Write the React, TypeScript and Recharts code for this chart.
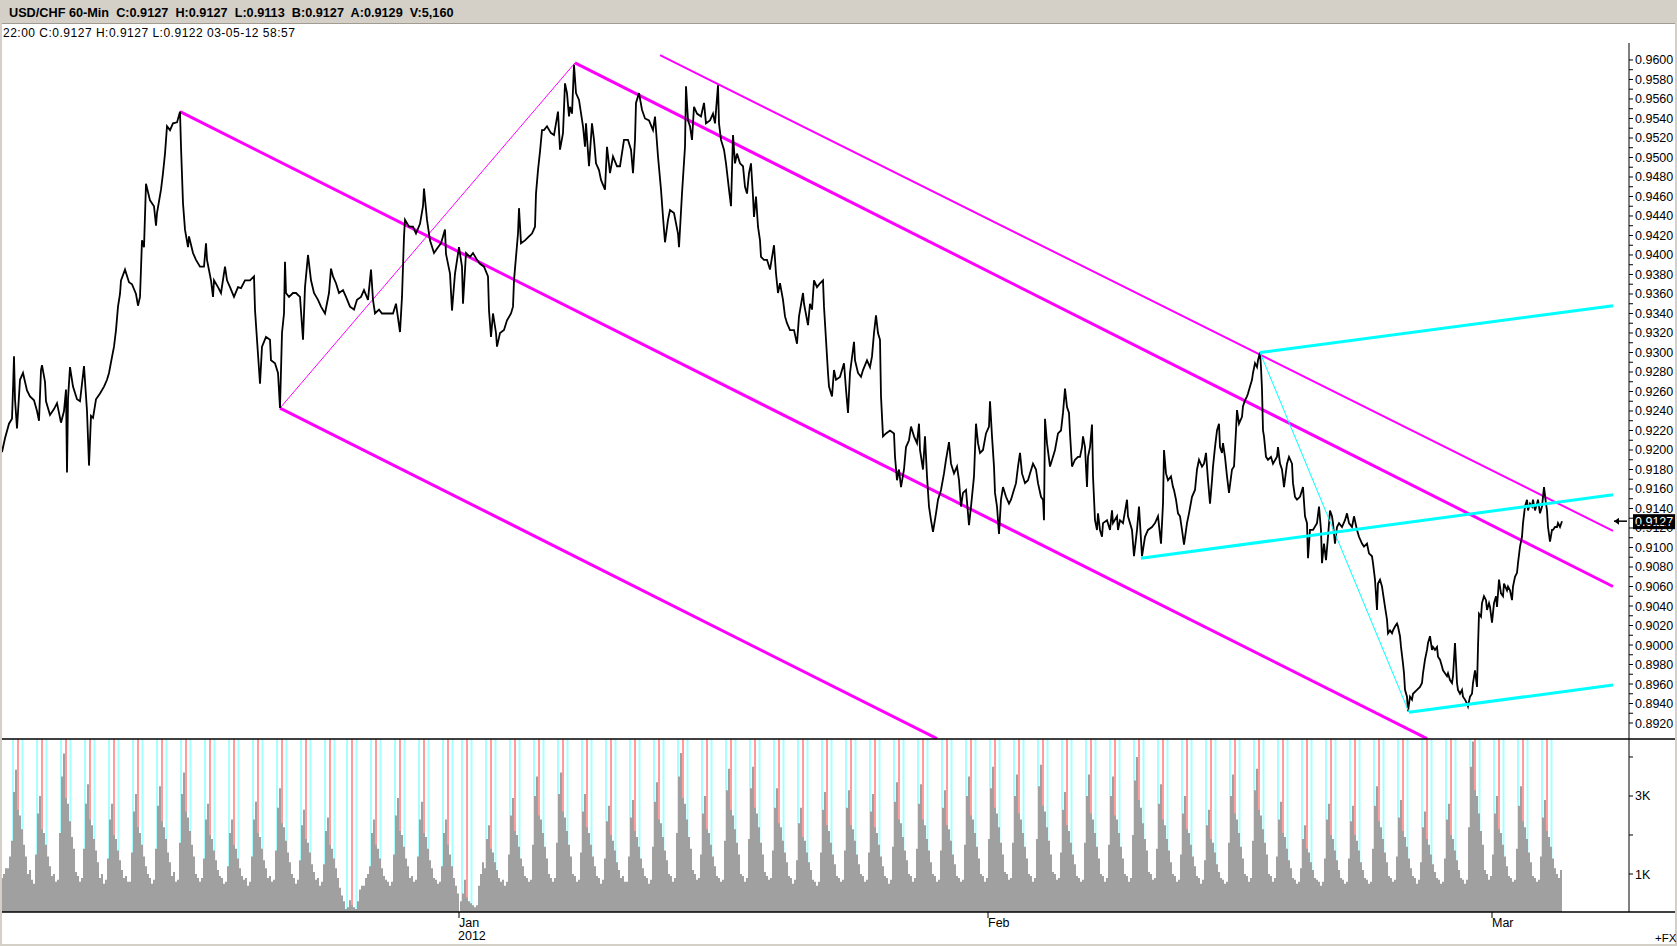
import React from 'react';
import { ComposedChart, Line, Bar, XAxis, YAxis, ReferenceLine } from 'recharts';

// x = bar number on the 60-min chart (weekends dropped, one bar per hour)
const pricesDec: [number, number][] = [
  [0, 0.9205], [2, 0.9198], [5, 0.9212], [9, 0.9227], [12, 0.9232], [13, 0.9262], [14, 0.9296], [15, 0.9252], [17, 0.9222],
  [20, 0.9272], [23, 0.9279], [27, 0.9261], [30, 0.9255], [34, 0.9251], [37, 0.924], [39, 0.923], [41, 0.9282], [42, 0.9287],
  [45, 0.927], [46, 0.925], [50, 0.9236], [54, 0.9242], [57, 0.9248], [61, 0.9228], [64, 0.924], [66, 0.9262], [67, 0.9177],
  [68, 0.9252], [70, 0.9285], [73, 0.9265], [77, 0.9252], [80, 0.925], [84, 0.9286], [87, 0.924], [89, 0.9184], [91, 0.9235],
  [93, 0.9233], [96, 0.9252], [100, 0.9258], [104, 0.9265], [107, 0.9272], [109, 0.9279], [111, 0.929], [114, 0.9306],
  [116, 0.9323], [118, 0.9347], [120, 0.936], [121, 0.9374], [125, 0.9385], [129, 0.9372], [132, 0.937], [136, 0.936],
  [138, 0.9348], [140, 0.9357], [142, 0.9415], [144, 0.9408], [146, 0.9473], [150, 0.9456], [154, 0.945], [156, 0.943],
  [157, 0.9443], [161, 0.9467], [163, 0.9484], [165, 0.9504], [167, 0.9532], [170, 0.9528], [173, 0.9535], [177, 0.9536],
  [180, 0.9547], [181, 0.9511], [183, 0.9453], [185, 0.9426], [188, 0.9408], [189, 0.9419], [193, 0.9402], [196, 0.9395],
  [200, 0.9388], [204, 0.9388], [206, 0.9412], [207, 0.9395], [211, 0.9374], [213, 0.9357], [214, 0.9374], [218, 0.9367],
  [221, 0.9361], [225, 0.9388], [227, 0.9374], [230, 0.9367], [234, 0.9357], [238, 0.9367], [241, 0.9366], [245, 0.9374],
  [250, 0.9374], [254, 0.9378], [255, 0.9344], [257, 0.9313], [260, 0.9268], [262, 0.9306], [266, 0.9316], [270, 0.9313],
  [271, 0.9292], [275, 0.9289], [278, 0.9279], [280, 0.9243], [282, 0.932], [284, 0.934], [285, 0.9393], [286, 0.9361],
  [289, 0.9357], [293, 0.9361], [296, 0.9361], [300, 0.9357], [303, 0.9313], [305, 0.9367], [308, 0.94], [311, 0.9374],
  [314, 0.9361], [318, 0.9354], [321, 0.9347], [325, 0.934], [329, 0.9361], [331, 0.9386], [333, 0.9378], [336, 0.9371],
  [339, 0.9361], [343, 0.9364], [346, 0.9357], [350, 0.9347], [354, 0.9344], [357, 0.9354], [361, 0.9357], [364, 0.9364],
  [368, 0.9354], [371, 0.9385], [373, 0.9354], [375, 0.934], [379, 0.9344], [382, 0.934], [386, 0.934], [389, 0.934],
  [393, 0.934], [396, 0.935], [400, 0.9321], [402, 0.9357], [404, 0.9419], [405, 0.9436], [409, 0.9429], [413, 0.9429],
  [416, 0.9422], [420, 0.9432], [423, 0.945], [424, 0.9468], [427, 0.9436], [429, 0.9422], [430, 0.9415], [434, 0.9402],
  [438, 0.9408], [441, 0.9412], [445, 0.9426], [446, 0.9401], [450, 0.9381], [452, 0.9343], [455, 0.9381],
];

const pricesJan: [number, number][] = [
  [459, 0.9408], [462, 0.9388], [463, 0.935], [466, 0.9402], [470, 0.9398], [473, 0.9402], [477, 0.9395], [480, 0.9391],
  [484, 0.9388], [488, 0.9378], [489, 0.9343], [491, 0.9316], [493, 0.934], [496, 0.932], [497, 0.9306], [500, 0.932],
  [504, 0.9323], [507, 0.9333], [511, 0.934], [513, 0.9347], [514, 0.9374], [516, 0.9398], [518, 0.9422], [519, 0.9448],
  [521, 0.9412], [525, 0.9415], [529, 0.9419], [532, 0.9422], [535, 0.9429], [536, 0.9463], [538, 0.9487], [540, 0.9506],
  [542, 0.9528], [544, 0.9528], [547, 0.9532], [551, 0.9525], [554, 0.9523], [558, 0.9547], [560, 0.9508], [563, 0.9525],
  [565, 0.9576], [567, 0.9566], [569, 0.9542], [570, 0.9552], [572, 0.9545], [574, 0.9595], [576, 0.9566], [579, 0.9559],
  [583, 0.9532], [585, 0.9511], [586, 0.9535], [589, 0.9491], [592, 0.9535], [594, 0.9518], [596, 0.9494], [599, 0.9487],
  [601, 0.9477], [605, 0.9467], [607, 0.9511], [610, 0.9484], [613, 0.9501], [617, 0.9491], [620, 0.9491], [624, 0.9518],
  [628, 0.9518], [631, 0.9508], [633, 0.9484], [635, 0.9518], [636, 0.9556], [639, 0.9566], [642, 0.9549], [645, 0.954],
  [649, 0.9538], [653, 0.9528], [655, 0.9542], [658, 0.9501], [661, 0.9467], [663, 0.9439], [665, 0.9413], [668, 0.9436],
  [670, 0.9446], [674, 0.9443], [678, 0.9422], [679, 0.9408], [682, 0.9463], [685, 0.9511], [686, 0.9573], [688, 0.9538],
  [690, 0.9532], [692, 0.9518], [694, 0.9552], [697, 0.9545], [701, 0.9542], [704, 0.9556], [706, 0.9535], [710, 0.9538],
  [713, 0.9545], [715, 0.9535], [718, 0.9574], [719, 0.9535], [721, 0.9518], [724, 0.9508], [726, 0.9494], [729, 0.9467],
  [731, 0.945], [733, 0.9523], [735, 0.9494], [737, 0.9504], [740, 0.9494], [743, 0.9491], [745, 0.947], [747, 0.9463],
  [749, 0.9484], [751, 0.9494], [753, 0.946], [754, 0.9439], [756, 0.946], [758, 0.9429], [760, 0.9415], [761, 0.9398],
  [764, 0.9395], [767, 0.9395], [770, 0.9385], [774, 0.941], [776, 0.9381], [778, 0.9361], [780, 0.9371], [783, 0.9354],
  [785, 0.9337], [787, 0.933], [790, 0.9323], [794, 0.9323], [797, 0.9309], [799, 0.9337], [803, 0.9361], [804, 0.935],
  [808, 0.9328], [810, 0.935], [812, 0.9344], [814, 0.9374], [817, 0.9367], [820, 0.9371], [823, 0.9374], [824, 0.9347],
  [826, 0.9313], [828, 0.9279], [829, 0.9265], [832, 0.9255], [834, 0.9282], [836, 0.9272], [840, 0.9275], [844, 0.9289],
  [846, 0.9262], [848, 0.9238], [850, 0.9279], [854, 0.9311], [855, 0.9292], [858, 0.9279], [861, 0.9275], [863, 0.9282],
  [867, 0.9292], [870, 0.9285], [872, 0.9296], [874, 0.932], [876, 0.9338], [878, 0.932], [880, 0.9313], [881, 0.9255],
  [883, 0.9214], [886, 0.9217], [890, 0.922], [894, 0.9217], [895, 0.9193], [897, 0.9169], [899, 0.918], [901, 0.9162],
  [904, 0.918], [906, 0.9203], [909, 0.921], [911, 0.9224], [914, 0.9214], [917, 0.9207], [919, 0.9227], [920, 0.92],
  [923, 0.918], [925, 0.9214], [927, 0.9173], [929, 0.9142], [931, 0.9128], [933, 0.9116], [936, 0.9135], [938, 0.9149],
  [941, 0.9159], [944, 0.9176], [946, 0.919], [949, 0.9208], [951, 0.9186], [954, 0.9176], [957, 0.9183], [959, 0.9169],
  [961, 0.9142], [963, 0.9156], [966, 0.9159], [969, 0.9123], [971, 0.9142], [974, 0.9173], [976, 0.9227], [978, 0.9207],
  [980, 0.9197], [983, 0.92], [986, 0.9217],
];

const pricesFeb: [number, number][] = [
  [989, 0.9224], [990, 0.925], [992, 0.9214], [994, 0.9183], [995, 0.9156], [997, 0.9142], [999, 0.9114], [1001, 0.9149],
  [1003, 0.9162], [1006, 0.9152], [1009, 0.9145], [1011, 0.9149], [1013, 0.9156], [1016, 0.9166], [1018, 0.9183],
  [1020, 0.9197], [1022, 0.9176], [1025, 0.9166], [1028, 0.9169], [1030, 0.9176], [1033, 0.9186], [1036, 0.918],
  [1038, 0.9166], [1041, 0.9152], [1043, 0.9149], [1044, 0.9128], [1045, 0.9232], [1047, 0.9207], [1050, 0.9183],
  [1053, 0.9193], [1055, 0.92], [1058, 0.9217], [1061, 0.922], [1063, 0.9238], [1065, 0.9263], [1067, 0.9244],
  [1069, 0.9238], [1070, 0.9217], [1072, 0.9183], [1075, 0.919], [1078, 0.9193], [1080, 0.9193], [1082, 0.9203],
  [1083, 0.9214], [1085, 0.9203], [1087, 0.9162], [1088, 0.9193], [1090, 0.9203], [1092, 0.9226], [1093, 0.9173],
  [1095, 0.9128], [1097, 0.9118], [1098, 0.9135], [1100, 0.9118], [1102, 0.9111], [1103, 0.9125], [1107, 0.9128],
  [1110, 0.9118], [1112, 0.9138], [1113, 0.9125], [1117, 0.9132], [1118, 0.9118], [1120, 0.9128], [1123, 0.9125],
  [1127, 0.9149], [1128, 0.9132], [1132, 0.9118], [1134, 0.9091], [1137, 0.9118], [1139, 0.9142], [1142, 0.9091],
  [1145, 0.9111], [1148, 0.9118], [1152, 0.9121], [1155, 0.9125], [1158, 0.9132], [1161, 0.9104], [1163, 0.9145],
  [1164, 0.92], [1166, 0.9176], [1168, 0.9169], [1171, 0.9173], [1173, 0.9162], [1174, 0.9159], [1176, 0.9149],
  [1178, 0.9135], [1180, 0.9132], [1182, 0.9118], [1184, 0.9103], [1187, 0.9125], [1189, 0.9135], [1192, 0.9152],
  [1195, 0.9159], [1197, 0.918], [1199, 0.919], [1202, 0.9183], [1204, 0.9186], [1206, 0.9197], [1208, 0.9169],
  [1210, 0.9145], [1212, 0.9169], [1213, 0.9183], [1215, 0.9203], [1217, 0.922], [1219, 0.9227], [1220, 0.9203],
  [1222, 0.9197], [1223, 0.9207], [1225, 0.9193], [1227, 0.9173], [1229, 0.9156], [1232, 0.918], [1234, 0.9183],
  [1236, 0.922], [1237, 0.9241], [1239, 0.9227], [1242, 0.9234], [1243, 0.9245], [1245, 0.9251], [1247, 0.9255],
  [1248, 0.9258], [1250, 0.9265], [1252, 0.9272], [1253, 0.9279], [1255, 0.9289], [1257, 0.9285], [1258, 0.9292],
  [1260, 0.93], [1261, 0.9285], [1262, 0.9262], [1263, 0.922], [1264, 0.9214], [1266, 0.9193], [1268, 0.919],
  [1271, 0.9193], [1273, 0.9186], [1277, 0.9193], [1278, 0.9203], [1280, 0.9186], [1282, 0.918], [1284, 0.9162],
  [1287, 0.9186], [1289, 0.9193], [1292, 0.9186], [1293, 0.9166], [1295, 0.9152], [1297, 0.9149], [1300, 0.9152],
  [1303, 0.9162], [1305, 0.9132], [1307, 0.9125], [1308, 0.9089], [1310, 0.9118], [1313, 0.9118], [1317, 0.9125],
  [1319, 0.9142], [1321, 0.9118], [1322, 0.9084], [1324, 0.9104], [1326, 0.9087], [1328, 0.9111], [1330, 0.9138],
  [1332, 0.9132], [1333, 0.9125], [1335, 0.9104], [1337, 0.9121], [1339, 0.9125], [1342, 0.9121], [1345, 0.9128],
  [1347, 0.9135], [1349, 0.9125], [1352, 0.9121], [1354, 0.9132], [1357, 0.9118], [1359, 0.9111], [1362, 0.9104],
  [1364, 0.9101], [1367, 0.9104], [1369, 0.9094], [1372, 0.9091], [1373, 0.9084], [1375, 0.9067], [1377, 0.9036],
  [1378, 0.9063], [1380, 0.9067], [1382, 0.906], [1383, 0.9053], [1385, 0.9039], [1387, 0.9026], [1388, 0.9012],
  [1390, 0.9015], [1392, 0.9012], [1393, 0.9015], [1395, 0.9019], [1397, 0.9022], [1398, 0.9019], [1400, 0.9009],
  [1401, 0.8998], [1403, 0.8981], [1404, 0.8971], [1405, 0.8954], [1407, 0.8947], [1408, 0.8932], [1410, 0.8947],
  [1412, 0.8944], [1413, 0.895], [1417, 0.8954], [1420, 0.8957], [1422, 0.8961], [1423, 0.8971], [1425, 0.8985],
  [1427, 0.8995], [1428, 0.9002], [1430, 0.9009], [1432, 0.8995], [1433, 0.8998], [1435, 0.8995], [1437, 0.8998],
  [1438, 0.8988], [1440, 0.8985], [1442, 0.8978], [1443, 0.8974], [1445, 0.8971], [1447, 0.8968], [1448, 0.8971],
  [1450, 0.8964], [1452, 0.8961], [1453, 0.8968], [1455, 0.9002], [1457, 0.8961], [1458, 0.8954], [1460, 0.895],
  [1462, 0.8954], [1463, 0.8947], [1465, 0.8944], [1467, 0.894], [1468, 0.8937], [1470, 0.8947], [1472, 0.895],
  [1473, 0.8961], [1475, 0.8974], [1477, 0.8957], [1478, 0.8998], [1479, 0.9032], [1481, 0.9029], [1482, 0.9043],
  [1484, 0.905], [1486, 0.9046], [1487, 0.9036], [1489, 0.9043], [1490, 0.9039],
];

const pricesMar: [number, number][] = [
  [1492, 0.9023], [1494, 0.9043], [1496, 0.905], [1497, 0.9039], [1499, 0.9067], [1501, 0.9053], [1503, 0.905],
  [1504, 0.9063], [1507, 0.9056], [1508, 0.906], [1510, 0.9056], [1512, 0.9046], [1513, 0.906], [1515, 0.907],
  [1517, 0.9074], [1518, 0.9084], [1520, 0.9101], [1522, 0.9111], [1523, 0.9125], [1525, 0.9142], [1527, 0.9149],
  [1528, 0.9138], [1530, 0.9145], [1532, 0.9142], [1533, 0.9149], [1535, 0.9138], [1537, 0.9145], [1538, 0.9149],
  [1540, 0.9135], [1542, 0.9142], [1543, 0.9152], [1544, 0.9162], [1546, 0.9145], [1547, 0.9138], [1548, 0.9121],
  [1550, 0.9106], [1552, 0.9118], [1553, 0.9118], [1555, 0.9121], [1557, 0.9121], [1558, 0.9125], [1560, 0.9121],
  [1562, 0.9127],
];

const lastClose = 0.9127;

// drawn trend channels: [bar, price, bar, price]
const magentaChannel: number[][] = [
  [180, 0.9547, 1427, 0.8904],
  [280, 0.9243, 937, 0.8904],
  [575, 0.9597, 1613, 0.906],
];
const magentaUpper: number[][] = [[660, 0.9605, 1613, 0.9117]];
const magentaThin: number[][] = [[280, 0.9243, 575, 0.9597]];
const cyanChannel: number[][] = [
  [1260, 0.93, 1613, 0.9348],
  [1141, 0.9089, 1613, 0.9154],
  [1409, 0.8931, 1613, 0.8959],
];
const cyanThin: number[][] = [[1260, 0.93, 1409, 0.8931]];

const priceTickLabels = [
  '0.9600', '0.9580', '0.9560', '0.9540', '0.9520', '0.9500', '0.9480', '0.9460', '0.9440', '0.9420', '0.9400', '0.9380',
  '0.9360', '0.9340', '0.9320', '0.9300', '0.9280', '0.9260', '0.9240', '0.9220', '0.9200', '0.9180', '0.9160', '0.9140',
  '0.9120', '0.9100', '0.9080', '0.9060', '0.9040', '0.9020', '0.9000', '0.8980', '0.8960', '0.8940', '0.8920',
];

// session marker (London open) bar for every trading day
const sessionHours = [
  18, 42, 66, 90, 114, 138, 162, 186, 210, 234, 258, 282, 306, 330, 352, 376, 400, 424, 448, 467, 491, 515, 539, 563,
  587, 611, 635, 659, 683, 707, 731, 755, 779, 803, 827, 851, 875, 899, 923, 947, 971, 995, 1019, 1043, 1067, 1091,
  1115, 1139, 1163, 1187, 1211, 1235, 1259, 1283, 1307, 1331, 1355, 1379, 1403, 1427, 1451, 1475, 1499, 1523, 1547,
];
const sessionEdgeBefore = -5;
const sessionEdgeAfter = 4.5;
const dayStartOffset = -7;

// volume in two-hour buckets, one row per trading day
const volumeBeforeFirstSession = [900, 1000, 1150, 1150, 1450];
const volumeDec = [
  [1850, 3100, 3670, 2650, 2500, 2150, 1750, 1450, 1000, 1100, 850, 750],
  [1500, 2550, 3000, 2150, 2050, 1750, 1450, 1200, 950, 1000, 800, 850],
  [2050, 3500, 4090, 2950, 2800, 2350, 1950, 1650, 1050, 950, 800, 900],
  [1650, 2800, 3300, 2400, 2250, 1900, 1600, 1300, 900, 1000, 750, 850],
  [1400, 2400, 2800, 2000, 1900, 1600, 1350, 1100, 900, 950, 800, 800],
  [1550, 2600, 3050, 2200, 2050, 1750, 1450, 1200, 1000, 900, 750, 850],
  [1650, 2750, 3250, 2350, 2200, 1900, 1550, 1300, 950, 1050, 800, 850],
  [1800, 3050, 3600, 2600, 2450, 2100, 1750, 1450, 1000, 900, 800, 900],
  [1400, 2400, 2800, 2000, 1900, 1600, 1350, 1100, 950, 900, 750, 800],
  [1200, 2050, 2400, 1750, 1650, 1400, 1150, 950, 850, 900, 700, 800],
  [1450, 2400, 2850, 2050, 1950, 1650, 1350, 1150, 900, 950, 800, 850],
  [1600, 2700, 3200, 2300, 2200, 1850, 1550, 1300, 1000, 900, 750, 850],
  [1350, 2250, 2650, 1900, 1800, 1550, 1250, 1050, 850, 900, 700, 800],
  [1250, 2100, 2450, 1750, 1650, 1400, 1150, 900, 650, 450, 300],
  [100, 150, 330, 200, 150, 100, 300, 600, 700, 700, 900, 1000],
  [1200, 2050, 2400, 1750, 1650, 1400, 1150, 950, 850, 800, 700, 800],
  [1500, 2500, 2950, 2100, 2000, 1700, 1400, 1200, 900, 950, 800, 850],
  [1450, 2400, 2850, 2050, 1950, 1650, 1350, 1150, 900, 850, 750, 800],
  [1200, 2050, 2400, 1750, 1500, 1200, 900, 700, 500],
];
const volumeJan = [
  [300, 500, 850, 400, 300, 250, 200, 150, 200, 700, 1000, 1300],
  [1150, 1900, 2250, 1650, 1550, 1300, 1100, 900, 800, 850, 700, 800],
  [1500, 2500, 2950, 2100, 2000, 1700, 1400, 1200, 950, 900, 800, 850],
  [1750, 3000, 3500, 2500, 2400, 2050, 1700, 1400, 1000, 900, 800, 900],
  [1800, 3050, 3600, 2600, 2450, 2100, 1750, 1450, 1000, 950, 800, 850],
  [1550, 2600, 3050, 2200, 2050, 1750, 1450, 1200, 950, 900, 750, 850],
  [1400, 2350, 2750, 2000, 1850, 1600, 1300, 1100, 900, 950, 800, 800],
  [1450, 2450, 2900, 2100, 1950, 1700, 1400, 1150, 950, 900, 750, 850],
  [1700, 2850, 3350, 2400, 2300, 1950, 1600, 1350, 1000, 950, 800, 900],
  [2050, 3500, 4100, 2950, 2800, 2400, 1950, 1650, 1100, 1000, 850, 900],
  [1500, 2550, 3000, 2150, 2050, 1750, 1450, 1200, 950, 900, 800, 850],
  [1850, 3150, 3700, 2650, 2500, 2150, 1800, 1500, 1000, 950, 800, 900],
  [1900, 3200, 3750, 2700, 2550, 2200, 1800, 1500, 1050, 950, 850, 900],
  [1600, 2700, 3200, 2300, 2200, 1850, 1550, 1300, 950, 900, 750, 850],
  [1350, 2300, 2700, 1950, 1850, 1550, 1300, 1100, 850, 800, 700, 800],
  [1550, 2650, 3100, 2250, 2100, 1800, 1500, 1250, 950, 900, 800, 850],
  [1600, 2700, 3150, 2250, 2150, 1850, 1500, 1250, 1000, 950, 800, 850],
  [1550, 2600, 3050, 2200, 2050, 1750, 1450, 1200, 950, 900, 750, 850],
  [1700, 2850, 3350, 2400, 2300, 1950, 1600, 1350, 1000, 950, 800, 900],
  [1650, 2800, 3300, 2400, 2250, 1900, 1600, 1300, 1000, 950, 800, 850],
  [1600, 2700, 3150, 2250, 2150, 1850, 1500, 1250, 950, 900, 800, 850],
  [1750, 3000, 3500, 2500, 2400, 2050, 1700, 1400, 1000, 950, 800, 900],
];
const volumeFeb = [
  [1900, 3200, 3750, 2700, 2550, 2200, 1800, 1500, 1050, 1000, 850, 900],
  [1800, 3000, 3550, 2550, 2400, 2050, 1700, 1400, 1000, 950, 800, 900],
  [1900, 3250, 3800, 2750, 2600, 2200, 1850, 1500, 1050, 1000, 850, 900],
  [1550, 2650, 3100, 2250, 2100, 1800, 1500, 1250, 950, 900, 800, 850],
  [1800, 3000, 3550, 2550, 2400, 2050, 1700, 1400, 1000, 950, 800, 900],
  [1750, 3000, 3500, 2500, 2400, 2050, 1700, 1400, 1000, 950, 800, 900],
  [2000, 3400, 4000, 2900, 2700, 2300, 1900, 1600, 1050, 1000, 850, 900],
  [1650, 2800, 3300, 2400, 2250, 1900, 1600, 1300, 1000, 950, 800, 850],
  [1500, 2550, 3000, 2150, 2050, 1750, 1450, 1200, 950, 900, 750, 850],
  [1350, 2250, 2650, 1900, 1800, 1550, 1250, 1050, 900, 850, 750, 800],
  [1800, 3000, 3550, 2550, 2400, 2050, 1700, 1400, 1000, 950, 800, 900],
  [1850, 3150, 3700, 2650, 2500, 2150, 1800, 1500, 1000, 950, 800, 900],
  [1450, 2400, 2850, 2050, 1950, 1650, 1350, 1150, 900, 850, 750, 800],
  [1150, 1900, 2250, 1650, 1550, 1300, 1100, 900, 850, 800, 700, 800],
  [1400, 2400, 2800, 2000, 1900, 1600, 1350, 1100, 900, 850, 750, 800],
  [1400, 2350, 2750, 2000, 1850, 1600, 1300, 1100, 900, 850, 750, 800],
  [1650, 2750, 3250, 2350, 2200, 1900, 1550, 1300, 950, 900, 800, 850],
  [1450, 2450, 2900, 2100, 1950, 1700, 1400, 1150, 950, 900, 750, 850],
  [1300, 2200, 2600, 1900, 1750, 1500, 1250, 1050, 900, 850, 750, 800],
  [1400, 2400, 2800, 2000, 1900, 1600, 1350, 1100, 900, 850, 750, 850],
  [2200, 3750, 4400, 3150, 3000, 2550, 2100, 1750, 1100, 1000, 850, 950],
];
const volumeMar = [
  [1500, 2550, 3000, 2150, 2050, 1750, 1450, 1200, 950, 900, 800, 850],
  [1650, 2750, 3250, 2350, 2200, 1900, 1550, 1300, 950, 900, 800, 850],
  [1450, 2450, 2900, 2100, 1950, 1700, 1400, 1150, 1000, 900, 1100],
];

const volumeTickLabels: Record<number, string> = { 1000: '1K', 2000: '', 3000: '3K', 4000: '' };
const monthHours = [459, 988, 1492];
const monthLabels = ['Jan', 'Feb', 'Mar'];
const yearLabels = ['2012', '', ''];

const HOURS: [number, number] = [0, 1629];
const PRICE_RANGE: [number, number] = [0.89036, 0.96174];
const VOLUME_RANGE: [number, number] = [26, 4461];
const FONT = '"Liberation Sans", Arial, sans-serif';

const priceData = [...pricesDec, ...pricesJan, ...pricesFeb, ...pricesMar].map(([hour, price]) => ({ hour, price }));
const majorPriceTicks = priceTickLabels.map(Number);
const priceTicks = [...majorPriceTicks, ...majorPriceTicks.slice(0, -1).map((v) => Math.round((v - 0.001) * 10000) / 10000)];
const volumeByDay = [...volumeDec, ...volumeJan, ...volumeFeb, ...volumeMar];
const volumeData = [
  ...volumeBeforeFirstSession.map((volume, i) => ({ hour: 2 + 2 * i, volume })),
  ...volumeByDay.flatMap((row, d) =>
    row.map((volume, i) => ({ hour: sessionHours[d] + dayStartOffset + 2 * i + 1, volume }))
  ),
];
const sessionData = sessionHours.map((hour) => ({ hour, base: 0 }));

const PriceTick = (props: any) => {
  const { x, y, payload } = props;
  const i = majorPriceTicks.indexOf(payload.value);
  if (i < 0) return <g />;
  return (
    <text x={x} y={y + 4.5} fontSize={12.5} fontFamily={FONT} fill="#000" textAnchor="start">
      {priceTickLabels[i]}
    </text>
  );
};

const VolumeTick = (props: any) => {
  const { x, y, payload } = props;
  const label = volumeTickLabels[payload.value];
  if (!label) return <g />;
  return (
    <text x={x} y={y + 4.5} fontSize={12.5} fontFamily={FONT} fill="#000" textAnchor="start">
      {label}
    </text>
  );
};

const MonthTick = (props: any) => {
  const { x, y, payload } = props;
  const i = monthHours.indexOf(payload.value);
  return (
    <g fontSize={12.5} fontFamily={FONT} fill="#000">
      <text x={x} y={y + 9} textAnchor="start">{monthLabels[i]}</text>
      {yearLabels[i] ? <text x={x - 1} y={y + 22} textAnchor="start">{yearLabels[i]}</text> : null}
    </g>
  );
};

const LastPriceMarker = (props: any) => {
  const vb = props.viewBox || {};
  const ax = (vb.x || 0) + (vb.width || 0);
  const y = vb.y || 0;
  return (
    <g>
      <path d={`M${ax - 15} ${y} L${ax - 2} ${y}`} stroke="#000" strokeWidth={1.5} />
      <path d={`M${ax - 15} ${y} L${ax - 10} ${y - 3.5} L${ax - 10} ${y + 3.5} Z`} fill="#000" />
      <rect x={ax + 4} y={y - 7} width={42} height={15} fill="#000" />
      <text x={ax + 6} y={y + 4.5} fontSize={12.5} fontFamily={FONT} fill="#fff">{lastClose.toFixed(4)}</text>
    </g>
  );
};

const seg = (s: number[]) => [{ x: s[0], y: s[1] }, { x: s[2], y: s[3] }];

export default function App() {
  return (
    <div style={{ position: 'absolute', left: 0, top: 0, width: 1677, height: 946, background: '#fff', overflow: 'hidden' }}>
      <div style={{ position: 'absolute', left: 0, top: 43 }}>
        <ComposedChart width={1677} height={696} data={priceData} margin={{ top: 0, right: 0, bottom: 0, left: 0 }}>
          <XAxis type="number" dataKey="hour" domain={HOURS} allowDataOverflow hide />
          <YAxis
            orientation="right"
            width={48}
            domain={PRICE_RANGE}
            allowDataOverflow
            ticks={priceTicks}
            interval={0}
            tick={PriceTick}
            tickSize={4}
            tickMargin={2}
            axisLine={{ stroke: '#000' }}
            tickLine={{ stroke: '#000' }}
          />
          {magentaChannel.map((s, i) => (
            <ReferenceLine key={`mc${i}`} segment={seg(s)} stroke="#ff00ff" strokeWidth={3} ifOverflow="hidden" />
          ))}
          {magentaUpper.map((s, i) => (
            <ReferenceLine key={`mu${i}`} segment={seg(s)} stroke="#ff00ff" strokeWidth={2} ifOverflow="hidden" />
          ))}
          {magentaThin.map((s, i) => (
            <ReferenceLine key={`mt${i}`} segment={seg(s)} stroke="#ff00ff" strokeWidth={1} ifOverflow="hidden" />
          ))}
          <Line type="linear" dataKey="price" stroke="#000" strokeWidth={1.8} dot={false} isAnimationActive={false} />
          {cyanChannel.map((s, i) => (
            <ReferenceLine key={`cc${i}`} segment={seg(s)} stroke="#00ffff" strokeWidth={3} ifOverflow="hidden" />
          ))}
          {cyanThin.map((s, i) => (
            <ReferenceLine key={`ct${i}`} segment={seg(s)} stroke="#00ffff" strokeWidth={1} ifOverflow="hidden" />
          ))}
          <ReferenceLine y={lastClose} stroke="none" label={LastPriceMarker} />
        </ComposedChart>
      </div>

      <div style={{ position: 'absolute', left: 0, top: 739 }}>
        <ComposedChart width={1677} height={173} data={sessionData} margin={{ top: 0, right: 48, bottom: 0, left: 0 }}>
          <XAxis type="number" dataKey="hour" domain={HOURS} allowDataOverflow hide />
          <YAxis domain={[0, 1]} allowDataOverflow hide />
          <Line dataKey="base" stroke="none" dot={false} isAnimationActive={false} />
          {sessionHours.map((h) => (
            <ReferenceLine key={`b${h}`} x={h + sessionEdgeBefore} stroke="#a8ffff" strokeWidth={2} ifOverflow="visible" />
          ))}
          {sessionHours.map((h) => (
            <ReferenceLine key={`a${h}`} x={h + sessionEdgeAfter} stroke="#a8ffff" strokeWidth={2} ifOverflow="visible" />
          ))}
          {sessionHours.map((h) => (
            <ReferenceLine key={`p${h}`} x={h} stroke="#ff9c9c" strokeWidth={2} ifOverflow="visible" />
          ))}
        </ComposedChart>
      </div>

      <div style={{ position: 'absolute', left: 0, top: 739 }}>
        <ComposedChart
          width={1677}
          height={207}
          data={volumeData}
          margin={{ top: 0, right: 0, bottom: 0, left: 0 }}
          barCategoryGap={0}
          barGap={0}
        >
          <XAxis
            type="number"
            dataKey="hour"
            domain={HOURS}
            allowDataOverflow
            ticks={monthHours}
            interval={0}
            tick={MonthTick}
            tickSize={6}
            tickMargin={0}
            axisLine={false}
            tickLine={{ stroke: '#000' }}
            height={34}
          />
          <YAxis
            orientation="right"
            width={48}
            domain={VOLUME_RANGE}
            allowDataOverflow
            ticks={[1000, 2000, 3000, 4000]}
            interval={0}
            tick={VolumeTick}
            tickSize={4}
            tickMargin={2}
            axisLine={{ stroke: '#000' }}
            tickLine={{ stroke: '#000' }}
          />
          <Bar dataKey="volume" fill="#a0a0a0" isAnimationActive={false} />
        </ComposedChart>
      </div>

      <svg width={1677} height={946} style={{ position: 'absolute', left: 0, top: 0, pointerEvents: 'none' }}>
        <rect x={0} y={0} width={1677} height={23} fill="#d4d0c8" />
        <line x1={0} y1={23.5} x2={1677} y2={23.5} stroke="#a09c94" />
        <rect x={0} y={23} width={2} height={923} fill="#d4d0c8" />
        <rect x={1675} y={23} width={2} height={923} fill="#d4d0c8" />
        <rect x={0} y={944} width={1677} height={2} fill="#d4d0c8" />
        <line x1={2} y1={739} x2={1675} y2={739} stroke="#000" strokeWidth={1.5} />
        <line x1={2} y1={912} x2={1675} y2={912} stroke="#000" strokeWidth={1.5} />
        <text x={9} y={17} fontSize={12.7} fontWeight="bold" fontFamily={FONT} fill="#000" style={{ whiteSpace: 'pre' }}>
          {'USD/CHF 60-Min  C:0.9127  H:0.9127  L:0.9113  B:0.9127  A:0.9129  V:5,160'}
        </text>
        <text x={3} y={37} fontSize={12} fontFamily={FONT} fill="#000" letterSpacing={0.5}>
          22:00 C:0.9127 H:0.9127 L:0.9122 03-05-12 58:57
        </text>
        <text x={1655} y={942} fontSize={11.5} fontFamily={FONT} fill="#000">+FX</text>
      </svg>
    </div>
  );
}
